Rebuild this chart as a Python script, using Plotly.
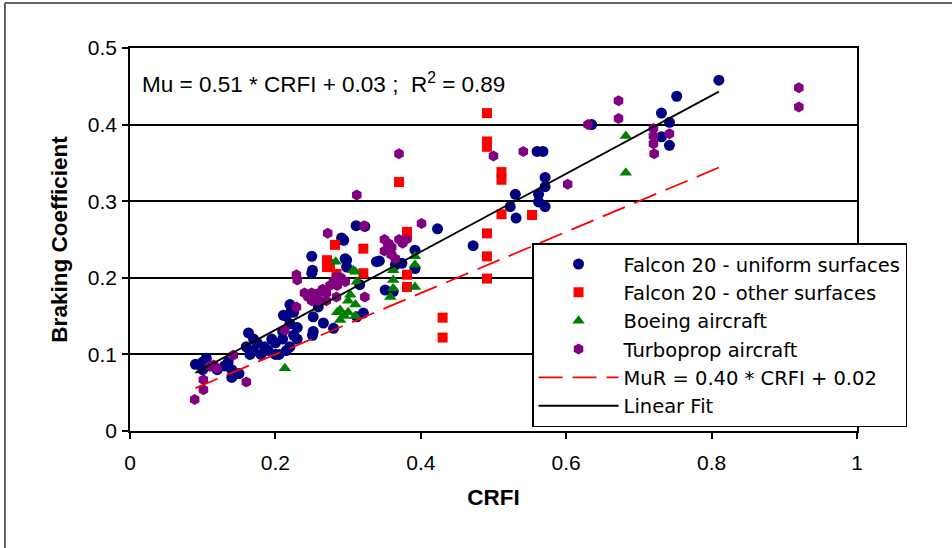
import plotly.graph_objects as go

# ---------------- data ----------------
falcon_uniform_x = [0.09, 0.10, 0.105, 0.11, 0.12, 0.13, 0.135, 0.14, 0.14, 0.15, 0.10,
                    0.16, 0.163, 0.165, 0.17, 0.17, 0.175, 0.18, 0.185, 0.19, 0.195, 0.20, 0.20, 0.205,
                    0.21, 0.21, 0.211, 0.215, 0.215, 0.22, 0.22, 0.22, 0.222, 0.225, 0.225, 0.23, 0.23,
                    0.25, 0.25, 0.251, 0.252, 0.252, 0.259, 0.266, 0.28, 0.251,
                    0.291, 0.293, 0.298, 0.296, 0.298, 0.294, 0.311, 0.312, 0.316, 0.321, 0.323,
                    0.339, 0.343, 0.351, 0.356, 0.362, 0.365, 0.374, 0.392, 0.392, 0.423, 0.472,
                    0.523, 0.53, 0.531, 0.562, 0.562, 0.56, 0.568, 0.571, 0.571, 0.571, 0.635,
                    0.731, 0.731, 0.742, 0.742, 0.752, 0.81]
falcon_uniform_y = [0.087, 0.09, 0.095, 0.085, 0.08, 0.085, 0.09, 0.08, 0.07, 0.075, 0.08,
                    0.11, 0.128, 0.10, 0.105, 0.12, 0.115, 0.10, 0.11, 0.105, 0.12, 0.10, 0.115, 0.10,
                    0.12, 0.13, 0.151, 0.15, 0.105, 0.165, 0.14, 0.11, 0.158, 0.155, 0.125, 0.135, 0.12,
                    0.228, 0.206, 0.21, 0.149, 0.13, 0.162, 0.141, 0.134, 0.125,
                    0.252, 0.25, 0.223, 0.225, 0.214, 0.249, 0.268, 0.149, 0.191, 0.154, 0.267,
                    0.221, 0.222, 0.184, 0.243, 0.182, 0.217, 0.219, 0.236, 0.212, 0.264, 0.242,
                    0.293, 0.309, 0.278, 0.309, 0.299, 0.365, 0.365, 0.331, 0.319, 0.293, 0.40,
                    0.415, 0.384, 0.403, 0.373, 0.437, 0.458]

falcon_other_x = [0.271, 0.271, 0.275, 0.282, 0.284, 0.321, 0.321, 0.37, 0.381, 0.381, 0.381, 0.381,
                  0.43, 0.43, 0.491, 0.491, 0.491, 0.491, 0.491, 0.491, 0.511, 0.511, 0.511, 0.553]
falcon_other_y = [0.223, 0.214, 0.218, 0.243, 0.205, 0.238, 0.206, 0.325, 0.26, 0.254, 0.204, 0.188,
                  0.148, 0.122, 0.415, 0.378, 0.371, 0.258, 0.228, 0.199, 0.338, 0.328, 0.283, 0.282]

boeing_x = [0.213, 0.283, 0.285, 0.289, 0.289, 0.295, 0.30, 0.30, 0.303, 0.307, 0.31, 0.31, 0.31, 0.312,
            0.358, 0.362, 0.362, 0.362, 0.36, 0.392, 0.392, 0.392, 0.682, 0.682]
boeing_y = [0.082, 0.221, 0.155, 0.158, 0.145, 0.15, 0.17, 0.155, 0.178, 0.21, 0.165, 0.15, 0.208, 0.195,
            0.175, 0.21, 0.197, 0.186, 0.23, 0.228, 0.217, 0.188, 0.385, 0.337]

turboprop_x = [0.089, 0.101, 0.101, 0.11, 0.115, 0.12, 0.142, 0.16, 0.213, 0.229, 0.229, 0.23,
               0.24, 0.245, 0.25, 0.255, 0.26, 0.265, 0.27, 0.275, 0.28, 0.285, 0.29, 0.25, 0.26, 0.27,
               0.284, 0.284, 0.296, 0.323, 0.272, 0.312, 0.322,
               0.35, 0.355, 0.36, 0.35, 0.36, 0.365, 0.37, 0.375, 0.38,
               0.37, 0.401, 0.50, 0.541, 0.602, 0.63, 0.672, 0.672,
               0.72, 0.72, 0.72, 0.721, 0.742, 0.92, 0.92]
turboprop_y = [0.041, 0.054, 0.067, 0.085, 0.086, 0.082, 0.099, 0.064, 0.132, 0.162, 0.204, 0.197,
               0.18, 0.175, 0.18, 0.178, 0.18, 0.185, 0.18, 0.19, 0.195, 0.19, 0.20, 0.17, 0.17, 0.17,
               0.201, 0.175, 0.195, 0.175, 0.258, 0.308, 0.268,
               0.25, 0.245, 0.24, 0.235, 0.23, 0.225, 0.25, 0.245, 0.25,
               0.362, 0.271, 0.359, 0.365, 0.322, 0.40, 0.431, 0.408,
               0.395, 0.385, 0.375, 0.362, 0.388, 0.448, 0.423]

# fitted relations (from chart text)
fit_range = [0.09, 0.81]
mu_slope, mu_intercept = 0.51, 0.03
mur_slope, mur_intercept = 0.40, 0.02

x_ticks = [0, 0.2, 0.4, 0.6, 0.8, 1]
x_tick_labels = ["0", "0.2", "0.4", "0.6", "0.8", "1"]
y_ticks = [0, 0.1, 0.2, 0.3, 0.4, 0.5]
y_tick_labels = ["0", "0.1", "0.2", "0.3", "0.4", "0.5"]

# ---------------- figure ----------------
FONT = "Liberation Sans, Arial, sans-serif"
LEGEND_FONT = "DejaVu Sans, Liberation Sans, sans-serif"
fig = go.Figure()

fig.add_trace(go.Scatter(x=falcon_uniform_x, y=falcon_uniform_y, mode="markers",
                         name="Falcon 20 - uniform surfaces",
                         marker=dict(symbol="circle", size=11, color="#000080")))
fig.add_trace(go.Scatter(x=falcon_other_x, y=falcon_other_y, mode="markers",
                         name="Falcon 20 - other surfaces",
                         marker=dict(symbol="square", size=10, color="#FF0000")))
fig.add_trace(go.Scatter(x=boeing_x, y=boeing_y, mode="markers",
                         name="Boeing aircraft",
                         marker=dict(symbol="triangle-up", size=11, color="#008000")))
fig.add_trace(go.Scatter(x=turboprop_x, y=turboprop_y, mode="markers",
                         name="Turboprop aircraft",
                         marker=dict(symbol="hexagon", size=11, color="#800080")))
fig.add_trace(go.Scatter(x=fit_range, y=[mur_slope * v + mur_intercept for v in fit_range],
                         mode="lines", name="MuR = 0.40 * CRFI + 0.02",
                         line=dict(color="#FF0000", width=1.8, dash="24px,10px")))
fig.add_trace(go.Scatter(x=fit_range, y=[mu_slope * v + mu_intercept for v in fit_range],
                         mode="lines", name="Linear Fit",
                         line=dict(color="black", width=1.8)))

fig.update_layout(
    width=952, height=548,
    margin=dict(l=130, r=95, t=48, b=117),
    paper_bgcolor="white", plot_bgcolor="white",
    font=dict(family=FONT, size=21, color="black"),
    showlegend=True,
    legend=dict(x=0.553, y=0.49, xanchor="left", yanchor="top",
                bgcolor="white", bordercolor="black", borderwidth=1.5,
                itemwidth=80, font=dict(family=LEGEND_FONT, size=19.5), tracegroupgap=0),
    xaxis=dict(range=[0, 1], tickvals=x_ticks, ticktext=x_tick_labels,
               showgrid=False, zeroline=False, showline=True, linecolor="black", linewidth=1.5,
               mirror=True, ticks="outside", ticklen=6, tickcolor="black", tickwidth=1.5,
               ticklabelstandoff=6,
               title=dict(text="<b>CRFI</b>", font=dict(size=22.5), standoff=16)),
    yaxis=dict(range=[0, 0.5], tickvals=y_ticks, ticktext=y_tick_labels,
               showgrid=True, gridcolor="black", gridwidth=1.5, zeroline=False,
               showline=True, linecolor="black", linewidth=1.5, mirror=True,
               ticks="outside", ticklen=6, tickcolor="black", tickwidth=1.5,
               ticklabelstandoff=1,
               title=dict(text="<b>Braking Coefficient</b>", font=dict(size=22.5), standoff=14)),
    annotations=[dict(text="Mu = 0.51 * CRFI + 0.03 ;&nbsp; R<sup>2</sup> = 0.89",
                      xref="paper", yref="paper", x=0.014, y=0.909,
                      xanchor="left", yanchor="middle", showarrow=False,
                      font=dict(size=22.5))],
    shapes=[
        dict(type="line", xref="paper", yref="paper", x0=-0.172, x1=1.14, y0=1.1175, y1=1.1175,
             line=dict(color="#333333", width=1.5)),
        dict(type="line", xref="paper", yref="paper", x0=-0.172, x1=-0.172, y0=1.1175, y1=-0.32,
             line=dict(color="#333333", width=1.5)),
    ],
)

fig.write_html("out.html")
